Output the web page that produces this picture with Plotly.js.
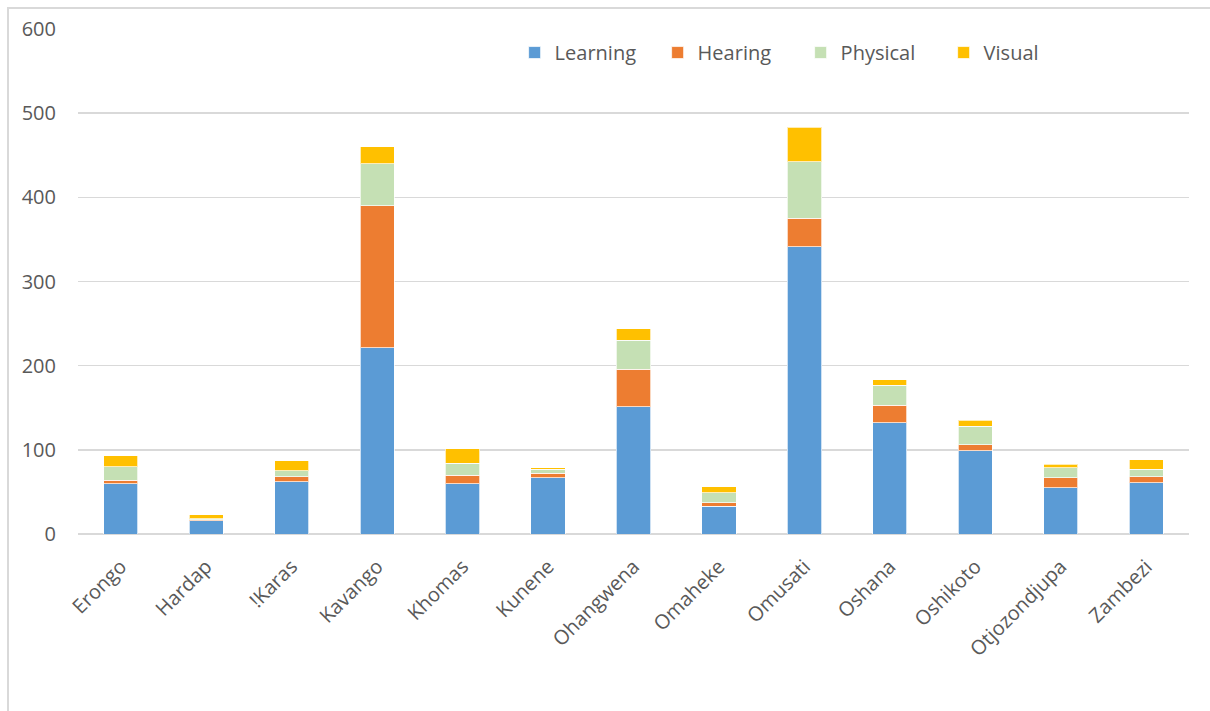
<!DOCTYPE html>
<html>
<head>
<meta charset="utf-8">
<script src="https://cdn.plot.ly/plotly-3.0.1.min.js"></script>
<style>
  html, body { margin: 0; padding: 0; background: #fff; }
  #chart { width: 1210px; height: 711px; }
  #frame { position: absolute; left: 7px; top: 7px; width: 1210px; height: 711px;
           border-left: 2px solid #D9D9D9; border-top: 2px solid #D9D9D9; pointer-events: none; }
</style>
</head>
<body>
<div id="chart"></div>
<div id="frame"></div>
<script>
const regions = ["Erongo", "Hardap", "!Karas", "Kavango", "Khomas", "Kunene", "Ohangwena",
                 "Omaheke", "Omusati", "Oshana", "Oshikoto", "Otjozondjupa", "Zambezi"];
const learning = [60, 16, 62, 221, 60, 67, 151, 33, 341, 132, 99, 55, 61];
const hearing  = [4, 1, 6, 169, 10, 5, 45, 4, 34, 21, 7, 12, 7];
const physical = [16, 1, 7, 50, 14, 5, 34, 12, 67, 24, 22, 12, 9];
const visual   = [13, 5, 12, 20, 17, 2, 14, 7, 41, 6, 7, 4, 11];
const yTicks = [0, 100, 200, 300, 400, 500, 600];

const seriesNames = ["Learning", "Hearing", "Physical", "Visual"];
const seriesData = [learning, hearing, physical, visual];
const seriesColors = ["#5B9BD5", "#ED7D31", "#C5E0B4", "#FFC000"];

const traces = seriesNames.map((name, i) => ({
  type: "bar",
  name: name,
  x: regions,
  y: seriesData[i],
  marker: { color: seriesColors[i], line: { color: "rgba(255,255,255,0.7)", width: 1 } },
  hoverinfo: "x+y+name"
}));

const layout = {
  width: 1210,
  height: 711,
  barmode: "stack",
  bargap: 0.6,
  paper_bgcolor: "#ffffff",
  plot_bgcolor: "#ffffff",
  margin: { l: 78, r: 21, t: 29, b: 177, autoexpand: false },
  font: { family: "Open Sans, sans-serif", size: 20, color: "#595959" },
  xaxis: {
    type: "category",
    tickangle: -45,
    showgrid: false,
    showline: false,
    ticks: "",
    ticklabelstandoff: 16,
    automargin: false,
    tickfont: { size: 20, color: "#595959" },
    fixedrange: true
  },
  yaxis: {
    range: [0, 600],
    tickvals: yTicks,
    ticktext: yTicks.map(String),
    showgrid: true,
    gridcolor: "#D9D9D9",
    gridwidth: 1.5,
    zeroline: true,
    zerolinecolor: "#D9D9D9",
    zerolinewidth: 2,
    showline: false,
    ticks: "",
    ticklabelstandoff: 21,
    automargin: false,
    tickfont: { size: 20, color: "#595959" },
    fixedrange: true
  },
  legend: {
    orientation: "h",
    x: 0.393,
    xanchor: "left",
    y: 0.992,
    yanchor: "top",
    entrywidth: 98,
    entrywidthmode: "pixels",
    font: { size: 20, color: "#595959" },
    bgcolor: "rgba(0,0,0,0)",
    traceorder: "normal"
  },
  showlegend: true
};

Plotly.newPlot("chart", traces, layout, { displayModeBar: false, staticPlot: true });
</script>
</body>
</html>
